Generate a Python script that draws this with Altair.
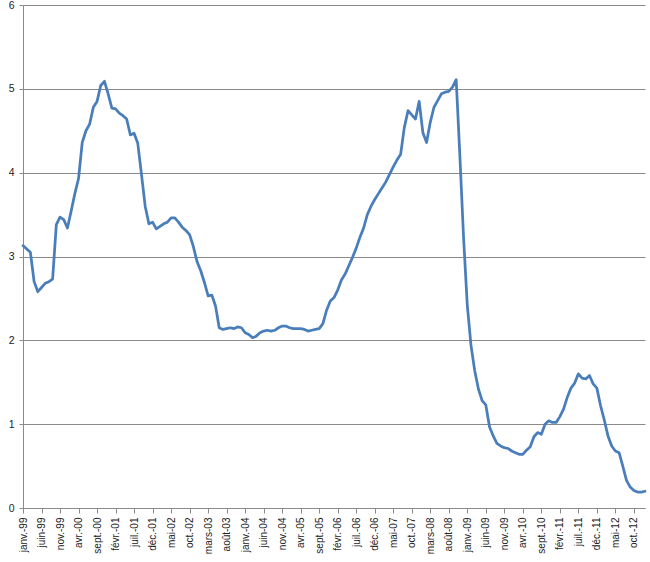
import altair as alt
import pandas as pd

months = ["janv.", "févr.", "mars", "avr.", "mai", "juin",
          "juil.", "août", "sept.", "oct.", "nov.", "déc."]

years = [1999, 2000, 2001, 2002, 2003, 2004, 2005, 2006,
         2007, 2008, 2009, 2010, 2011, 2012, 2013]

rate_1999 = [3.13, 3.09, 3.05, 2.70, 2.58, 2.63, 2.68, 2.70, 2.73, 3.38, 3.47, 3.44]
rate_2000 = [3.34, 3.54, 3.75, 3.93, 4.36, 4.50, 4.58, 4.78, 4.85, 5.04, 5.09, 4.94]
rate_2001 = [4.77, 4.76, 4.71, 4.68, 4.64, 4.45, 4.47, 4.35, 3.98, 3.60, 3.39, 3.41]
rate_2002 = [3.33, 3.36, 3.39, 3.41, 3.46, 3.46, 3.41, 3.35, 3.31, 3.26, 3.12, 2.94]
rate_2003 = [2.83, 2.69, 2.53, 2.54, 2.41, 2.15, 2.13, 2.14, 2.15, 2.14, 2.16, 2.15]
rate_2004 = [2.09, 2.07, 2.03, 2.05, 2.09, 2.11, 2.12, 2.11, 2.12, 2.15, 2.17, 2.17]
rate_2005 = [2.15, 2.14, 2.14, 2.14, 2.13, 2.11, 2.12, 2.13, 2.14, 2.20, 2.36, 2.47]
rate_2006 = [2.51, 2.60, 2.72, 2.79, 2.89, 2.99, 3.10, 3.23, 3.34, 3.50, 3.60, 3.68]
rate_2007 = [3.75, 3.82, 3.89, 3.98, 4.07, 4.15, 4.22, 4.54, 4.74, 4.69, 4.64, 4.85]
rate_2008 = [4.48, 4.36, 4.60, 4.78, 4.86, 4.94, 4.96, 4.97, 5.02, 5.11, 4.20, 3.22]
rate_2009 = [2.42, 1.94, 1.64, 1.42, 1.28, 1.23, 0.97, 0.86, 0.77, 0.74, 0.72, 0.71]
rate_2010 = [0.68, 0.66, 0.64, 0.64, 0.69, 0.73, 0.85, 0.90, 0.88, 1.00, 1.04, 1.02]
rate_2011 = [1.02, 1.09, 1.18, 1.32, 1.43, 1.49, 1.60, 1.55, 1.54, 1.58, 1.48, 1.43]
rate_2012 = [1.22, 1.05, 0.86, 0.74, 0.68, 0.66, 0.50, 0.33, 0.25, 0.21, 0.19, 0.19]
rate_2013 = [0.20]

rates = [rate_1999, rate_2000, rate_2001, rate_2002, rate_2003, rate_2004,
         rate_2005, rate_2006, rate_2007, rate_2008, rate_2009, rate_2010,
         rate_2011, rate_2012, rate_2013]

rows = []
for y, vals in zip(years, rates):
    for m, v in enumerate(vals):
        rows.append({"label": f"{months[m]}-{str(y)[2:]}", "rate": v})
df = pd.DataFrame(rows)

tick_labels = df["label"].tolist()[::5]
y_ticks = [0, 1, 2, 3, 4, 5, 6]

axis_gray = "#8a8a8a"
font = "Liberation Sans"

chart = alt.Chart(df).mark_line(
    color="#4a7ebb", strokeWidth=2.75, strokeJoin="round", strokeCap="round"
).encode(
    x=alt.X("label:O", sort=None, title=None,
            scale=alt.Scale(type="point", padding=0),
            axis=alt.Axis(values=tick_labels, labelAngle=-90, labelAlign="right",
                          labelBaseline="middle", labelFont=font, labelFontSize=10,
                          labelColor="#222222", labelPadding=4, tickSize=5,
                          tickColor=axis_gray, domainColor=axis_gray, grid=False,
                          labelOverlap=False)),
    y=alt.Y("rate:Q", title=None,
            scale=alt.Scale(domain=[0, 6], nice=False, zero=True),
            axis=alt.Axis(values=y_ticks, format="d", labelFont=font, labelFontSize=10.5,
                          labelColor="#222222", labelPadding=5, tickSize=4,
                          tickColor=axis_gray, domainColor=axis_gray,
                          grid=True, gridColor=axis_gray, gridWidth=1)),
).properties(
    width=622, height=503,
    padding={"left": 23, "top": 5, "right": 5, "bottom": 54},
    autosize=alt.AutoSizeParams(type="none"),
).configure_view(stroke=None)

chart.save("out.html", embed_options={"renderer": "svg", "actions": False})
